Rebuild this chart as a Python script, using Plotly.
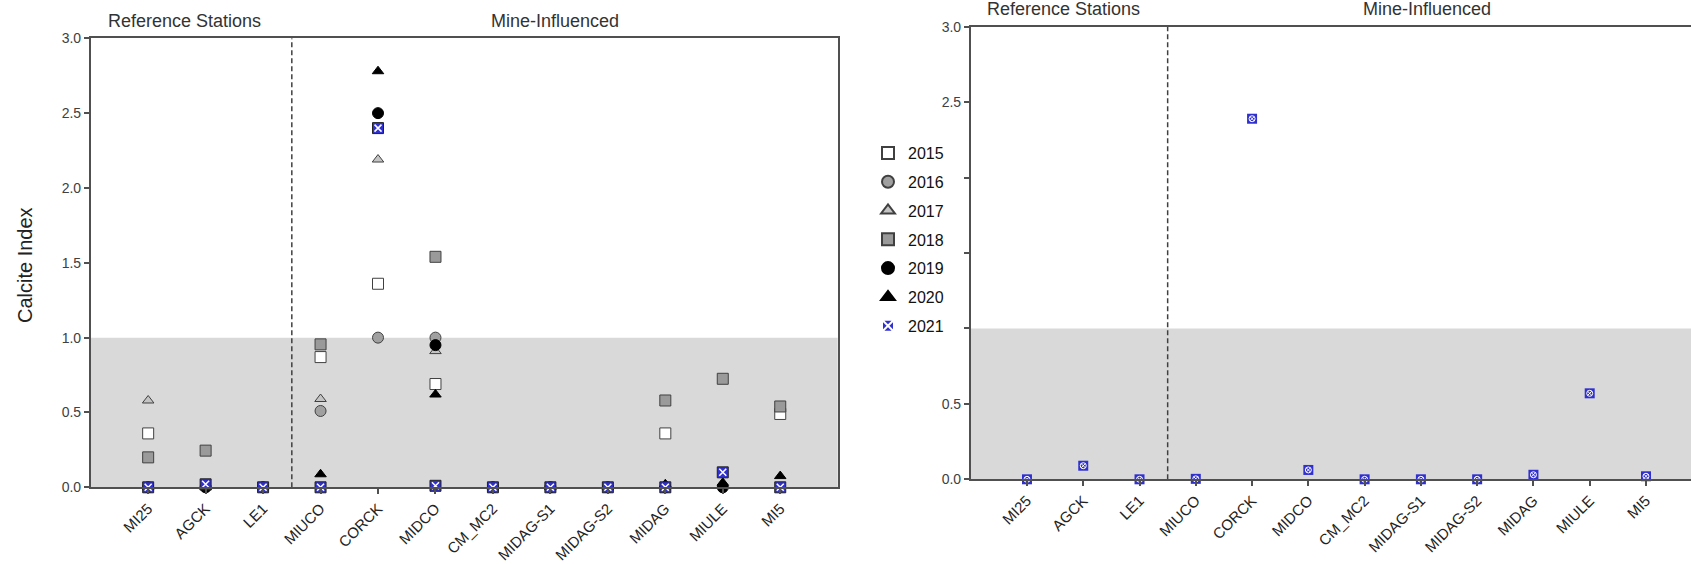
import plotly.graph_objects as go

stations = ["MI25", "AGCK", "LE1", "MIUCO", "CORCK", "MIDCO", "CM_MC2",
            "MIDAG-S1", "MIDAG-S2", "MIDAG", "MIULE", "MI5"]

# Left panel: Calcite Index by year (None = not shown)
y2015 = [0.36, None, None, 0.87, 1.36, 0.69, None, None, None, 0.36, None, 0.49]
y2016 = [None, None, None, 0.51, 1.00, 1.00, None, None, None, None, None, None]
y2017 = [0.58, None, None, 0.59, 2.19, 0.91, None, None, None, None, None, None]
y2018 = [0.20, 0.245, None, 0.955, None, 1.54, None, None, None, 0.58, 0.725, 0.54]
y2019 = [0.0, 0.0, 0.0, None, 2.50, 0.95, 0.0, 0.0, 0.0, 0.0, 0.0, None]
y2020 = [0.0, 0.0, 0.0, 0.087, 2.78, 0.62, 0.0, 0.0, 0.0, 0.02, 0.03, 0.075]
y2021 = [0.0, 0.02, 0.0, 0.0, 2.40, 0.01, 0.0, 0.0, 0.0, 0.0, 0.10, 0.0]

# Right panel: 2021 only
r2021 = [0.0, 0.09, 0.0, 0.003, 2.39, 0.062, 0.0, 0.0, 0.0, 0.03, 0.57, 0.02]

y_ticks = [0, 0.5, 1.0, 1.5, 2.0, 2.5, 3.0]
y_ticktext_left = ["0.0", "0.5", "1.0", "1.5", "2.0", "2.5", "3.0"]
y_ticktext_right = ["0.0", "0.5", "", "", "", "2.5", "3.0"]

FONT = "Liberation Sans, Arial, sans-serif"
EDGE = "#404040"
BLUE = "#3030d0"

W, H = 1691, 564
def px_x(p):
    return p / W
def px_y(p):
    return 1 - p / H

fig = go.Figure()

styles = [
    ("2015", y2015, "square", 11, "white"),
    ("2016", y2016, "circle", 11, "#a0a0a0"),
    ("2017", y2017, "triangle-up", 10, "#c4c4c4"),
    ("2018", y2018, "square", 11, "#9a9a9a"),
    ("2019", y2019, "circle", 11, "black"),
    ("2020", y2020, "triangle-up", 10, "black"),
]
for name, vals, sym, size, col in styles:
    fig.add_trace(go.Scatter(
        x=stations, y=vals, mode="markers", name=name, legendgroup=name,
        marker=dict(symbol=sym, size=size, color=col,
                    line=dict(color=EDGE if col != "black" else "black", width=1)),
        xaxis="x", yaxis="y", showlegend=True, cliponaxis=False))

# 2021 on left panel: blue square with dark border + white x
fig.add_trace(go.Scatter(
    x=stations, y=y2021, mode="markers", name="2021", legendgroup="2021",
    marker=dict(symbol="square", size=11, color=BLUE, line=dict(color="#222222", width=1)),
    xaxis="x", yaxis="y", showlegend=False, cliponaxis=False))
fig.add_trace(go.Scatter(
    x=stations, y=y2021, mode="markers", name="2021", legendgroup="2021",
    marker=dict(symbol="x-thin", size=7, color="white", line=dict(color="white", width=1.5)),
    xaxis="x", yaxis="y", showlegend=False, cliponaxis=False))

# 2021 on right panel (first trace carries the legend entry; it sits beneath the others)
fig.add_trace(go.Scatter(
    x=stations, y=r2021, mode="markers", name="2021", legendgroup="2021",
    marker=dict(symbol="square-x", size=2, color=BLUE, line=dict(color="white", width=1)),
    xaxis="x2", yaxis="y2", showlegend=True, cliponaxis=False))
fig.add_trace(go.Scatter(
    x=stations, y=r2021, mode="markers", name="2021", legendgroup="2021",
    marker=dict(symbol="square", size=10, color=BLUE, line=dict(width=0)),
    xaxis="x2", yaxis="y2", showlegend=False, cliponaxis=False))
fig.add_trace(go.Scatter(
    x=stations, y=r2021, mode="markers", name="2021", legendgroup="2021",
    marker=dict(symbol="circle-x-open", size=6, color="white", line=dict(color="white", width=1)),
    xaxis="x2", yaxis="y2", showlegend=False, cliponaxis=False))

axis_common = dict(
    showgrid=False, zeroline=False, showline=True, linecolor="#505050", linewidth=1.5,
    ticks="outside", ticklen=5, tickcolor="#505050", tickwidth=1.5,
)

fig.update_layout(
    width=W, height=H,
    margin=dict(l=0, r=0, t=0, b=0),
    paper_bgcolor="white", plot_bgcolor="white",
    font=dict(family=FONT, color="#222222"),
    xaxis=dict(domain=[px_x(90.7), px_x(837.7)], range=[-1, 12], type="category",
               categoryorder="array", categoryarray=stations, mirror=True,
               tickangle=-45, tickfont=dict(size=15, color="#222222"),
               anchor="y", automargin=False, **axis_common),
    yaxis=dict(domain=[px_y(487.3), px_y(38.3)], range=[0, 3], mirror=True,
               tickvals=y_ticks, ticktext=y_ticktext_left,
               tickfont=dict(size=14, color="#404040"), anchor="x",
               automargin=False, **axis_common),
    xaxis2=dict(domain=[px_x(970.7), 1.0], range=[-1, 11.8], type="category",
                categoryorder="array", categoryarray=stations, mirror=True,
                tickangle=-45, tickfont=dict(size=15, color="#222222"),
                anchor="y2", automargin=False, **axis_common),
    yaxis2=dict(domain=[px_y(479.3), px_y(26.7)], range=[0, 3], mirror=False,
                tickvals=y_ticks, ticktext=y_ticktext_right,
                tickfont=dict(size=14, color="#404040"), anchor="x2",
                automargin=False, **axis_common),
    legend=dict(x=px_x(868), y=px_y(136), xanchor="left", yanchor="top",
                bgcolor="rgba(255,255,255,0)", borderwidth=0,
                font=dict(size=16, color="#111111", family=FONT),
                traceorder="grouped", tracegroupgap=5, itemsizing="constant"),
    showlegend=True,
)

# shaded band 0..1 and dashed separator
for xr, yr in (("x", "y"), ("x2", "y2")):
    fig.add_shape(type="rect", xref=f"{xr} domain", yref=yr, x0=0, x1=1, y0=0, y1=1,
                  fillcolor="#d9d9d9", line=dict(width=0), layer="below")
    fig.add_shape(type="line", xref=xr, yref=yr, x0=2.5, x1=2.5, y0=0, y1=3,
                  line=dict(color="#404040", width=1.5, dash="5px,3px"), layer="above")

# group labels
ann_font = dict(size=18, color="#333333", family=FONT)
fig.add_annotation(text="Reference Stations", xref="x", yref="paper", x=0.63, y=px_y(21),
                   showarrow=False, font=ann_font, yanchor="middle", xanchor="center")
fig.add_annotation(text="Mine-Influenced", xref="x", yref="paper", x=7.08, y=px_y(21),
                   showarrow=False, font=ann_font, yanchor="middle", xanchor="center")
fig.add_annotation(text="Reference Stations", xref="x2", yref="paper", x=0.65, y=px_y(9),
                   showarrow=False, font=ann_font, yanchor="middle", xanchor="center")
fig.add_annotation(text="Mine-Influenced", xref="x2", yref="paper", x=7.1, y=px_y(9),
                   showarrow=False, font=ann_font, yanchor="middle", xanchor="center")

# y-axis title
fig.add_annotation(text="Calcite Index", xref="paper", yref="paper", x=px_x(25), y=px_y(265),
                   xanchor="center", yanchor="middle",
                   textangle=-90, showarrow=False, font=dict(size=20, color="#222222", family=FONT))

fig.write_html("out.html")
